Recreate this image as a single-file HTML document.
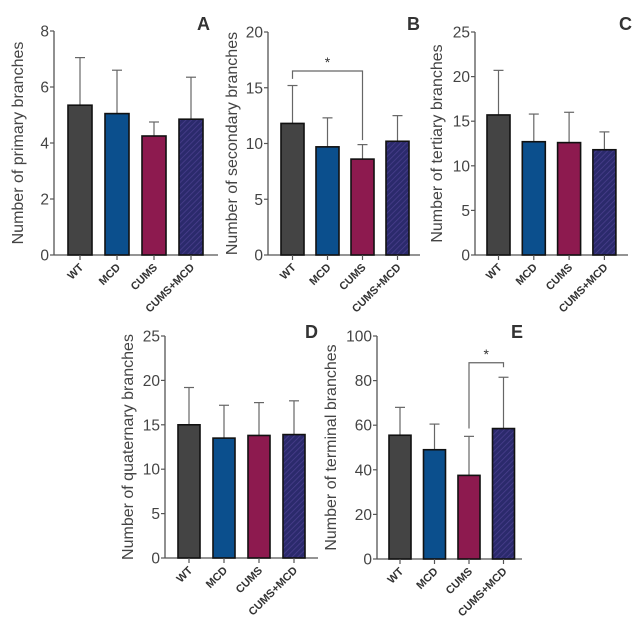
<!DOCTYPE html>
<html><head><meta charset="utf-8"><style>
body{margin:0;background:#fff;}
svg{display:block;font-family:"Liberation Sans",sans-serif;}
</style></head><body>
<svg id="c" width="643" height="639" viewBox="0 0 643 639">
<defs><pattern id="hatch" width="4" height="4" patternUnits="userSpaceOnUse" patternTransform="rotate(45)"><rect width="4" height="4" fill="#2b2a6c"/><line x1="0" y1="0" x2="0" y2="4" stroke="#4a3f8e" stroke-width="1.5"/></pattern></defs>
</svg>
<script>
const categories=["WT","MCD","CUMS","CUMS+MCD"];
const meansA=[5.35,5.05,4.25,4.85], errTopA=[7.05,6.6,4.75,6.35];
const meansB=[11.8,9.7,8.6,10.2], errTopB=[15.2,12.3,9.9,12.5];
const meansC=[15.7,12.7,12.6,11.8], errTopC=[20.7,15.8,16.0,13.8];
const meansD=[15.0,13.5,13.8,13.9], errTopD=[19.2,17.2,17.5,17.7];
const meansE=[55.5,49.0,37.5,58.5], errTopE=[68,60.5,55,81.5];
const ticksA=[0,2,4,6,8], ticksB=[0,5,10,15,20], ticksC=[0,5,10,15,20,25], ticksD=[0,5,10,15,20,25], ticksE=[0,20,40,60,80,100];
// significance: [barA, barB, bracket level, legA end, legB end]
const sigB=[0,2,16.5,15.8,10.3], sigE=[2,3,88,58.5,86];
const colors=["#444444","#0b4f8d","#8d1a4f","url(#hatch)"];
const svg=document.getElementById('c');
const NS="http://www.w3.org/2000/svg";
function mk(t,a,p){const e=document.createElementNS(NS,t);for(const k in a)e.setAttribute(k,a[k]);(p||svg).appendChild(e);return e;}
const panels=[
 {id:"a",letter:"A",lx:197,ly:30,ax:54,top:31,bot:255,end:218,b0:68,sp:37,bw:24,ticks:ticksA,m:meansA,e:errTopA,title:"Number of primary branches",tx:23},
 {id:"b",letter:"B",lx:407,ly:30,ax:268,top:32,bot:255,end:420,b0:281,sp:35,bw:23,ticks:ticksB,m:meansB,e:errTopB,title:"Number of secondary branches",tx:237,sig:sigB},
 {id:"c",letter:"C",lx:619,ly:30,ax:475,top:32,bot:255,end:628,b0:487,sp:35.3,bw:23,ticks:ticksC,m:meansC,e:errTopC,title:"Number of tertiary branches",tx:442},
 {id:"d",letter:"D",lx:305,ly:338,ax:165,top:336,bot:558,end:318,b0:178,sp:35,bw:22,ticks:ticksD,m:meansD,e:errTopD,title:"Number of quaternary branches",tx:133},
 {id:"e",letter:"E",lx:511,ly:338,ax:377,top:336,bot:559,end:522,b0:389,sp:34.5,bw:22,ticks:ticksE,m:meansE,e:errTopE,title:"Number of terminal branches",tx:336,sig:sigE}
];
panels.forEach(p=>{
 const g=mk('g',{});
 
 
 const max=p.ticks[p.ticks.length-1];
 const y=v=>p.bot-(v/max)*(p.bot-p.top);
 const cx=i=>p.b0+i*p.sp+p.bw/2;
 const yl=mk('line',{x1:p.ax,y1:p.top,x2:p.ax,y2:p.bot,stroke:"#555","stroke-width":1.3},g);
 
 
 const xl=mk('line',{x1:p.ax,y1:p.bot,x2:p.end,y2:p.bot,stroke:"#555","stroke-width":1.3},g);
 
 
 p.ticks.forEach(t=>{
  mk('line',{x1:p.ax-4,y1:y(t),x2:p.ax,y2:y(t),stroke:"#555","stroke-width":1.2},g);
  const tl=mk('text',{x:p.ax-5,y:y(t)+5.5,"text-anchor":"end","font-size":15.5,fill:"#444"},g);
  tl.textContent=t;
  
  
 });
 const tt=mk('text',{x:p.tx,y:(p.top+p.bot)/2,"text-anchor":"middle","font-size":16,fill:"#444",transform:`rotate(-90 ${p.tx} ${(p.top+p.bot)/2})`},g);
 tt.textContent=p.title;
 
 
 const lt=mk('text',{x:p.lx,y:p.ly,"font-size":18,"font-weight":"bold",fill:"#333"},g);
 lt.textContent=p.letter;
 
 
 categories.forEach((c,i)=>{
  const x=p.b0+i*p.sp;
  mk('line',{x1:cx(i),y1:y(p.m[i]),x2:cx(i),y2:y(p.e[i]),stroke:"#666","stroke-width":1.2},g);
  mk('line',{x1:cx(i)-5,y1:y(p.e[i]),x2:cx(i)+5,y2:y(p.e[i]),stroke:"#666","stroke-width":1.2},g);
  const r=mk('rect',{x:x,y:y(p.m[i]),width:p.bw,height:p.bot-y(p.m[i]),fill:colors[i],stroke:"#111","stroke-width":1.6},g);
  
  
  mk('line',{x1:cx(i),y1:p.bot,x2:cx(i),y2:p.bot+5,stroke:"#555","stroke-width":1.2},g);
  const xt=mk('text',{x:cx(i)+4,y:p.bot+13,"text-anchor":"end","font-size":11,"font-weight":"bold",fill:"#333",transform:`rotate(-45 ${cx(i)+4} ${p.bot+13})`},g);
  xt.textContent=c;
  
  
 });
 if(p.sig){
  const [a,b,v,ea,eb]=p.sig;
  const br=mk('path',{d:`M${cx(a)} ${y(ea)} V${y(v)} H${cx(b)} V${y(eb)}`,fill:"none",stroke:"#666","stroke-width":1.2},g);
  
  
  const st=mk('text',{x:(cx(a)+cx(b))/2,y:y(v)-4,"text-anchor":"middle","font-size":14,fill:"#333"},g);
  st.textContent="*";
  
  
 }
});
</script>
</body></html>
